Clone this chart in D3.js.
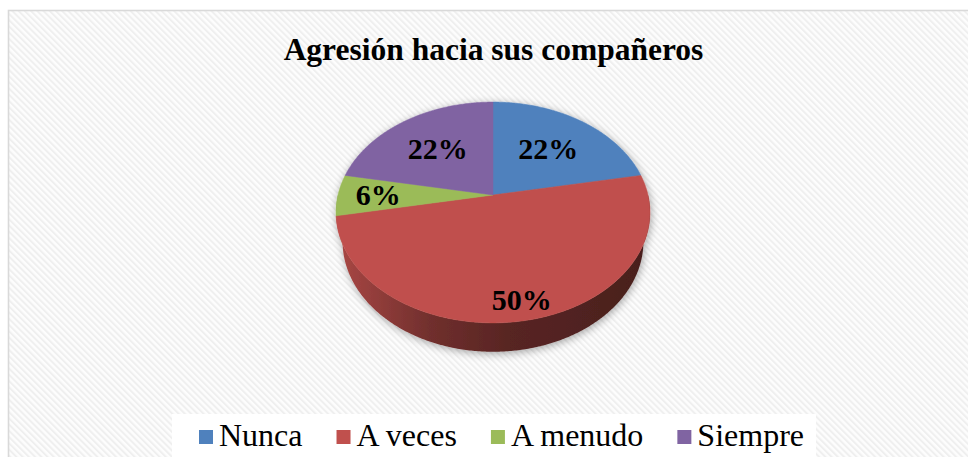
<!DOCTYPE html>
<html>
<head>
<meta charset="utf-8">
<script src="https://cdn.jsdelivr.net/npm/d3@7"></script>
<style>
  html, body { margin: 0; padding: 0; background: #fff; }
  svg { display: block; }
</style>
</head>
<body>
<div id="chart"></div>
<script>
const categories = ['Nunca', 'A veces', 'A menudo', 'Siempre'];
const values = [22, 50, 6, 22];
const colors = ['#4f81bd', '#c0504d', '#9bbb59', '#8064a2'];
const chartTitle = 'Agresión hacia sus compañeros';

// how far out (fraction of radius) each data label sits
const labelRadius = [0.6, 0.86, 0.74, 0.6];

const width = 968;
const height = 457;
const serif = '"Liberation Serif", "Times New Roman", Times, serif';

const svg = d3.select('#chart')
  .append('svg')
  .attr('width', width)
  .attr('height', height);

const defs = svg.append('defs');

// diagonal hatch of the chart area
const hatch = defs.append('pattern')
  .attr('id', 'hatch')
  .attr('patternUnits', 'userSpaceOnUse')
  .attr('width', 4.4)
  .attr('height', 4.4)
  .attr('patternTransform', 'rotate(-45)');
hatch.append('rect').attr('width', 4.4).attr('height', 4.4).attr('fill', '#fdfdfd');
hatch.append('rect').attr('width', 2).attr('height', 4.4).attr('fill', '#efefef');

const shadow = defs.append('filter')
  .attr('id', 'shadow')
  .attr('x', '-20%').attr('y', '-20%')
  .attr('width', '140%').attr('height', '140%');
shadow.append('feGaussianBlur').attr('in', 'SourceAlpha').attr('stdDeviation', 4).attr('result', 'blur');
shadow.append('feOffset').attr('in', 'blur').attr('dx', 1).attr('dy', 2).attr('result', 'off');
shadow.append('feComponentTransfer').attr('in', 'off').attr('result', 'soft')
  .append('feFuncA').attr('type', 'linear').attr('slope', 0.35);
const merge = shadow.append('feMerge');
merge.append('feMergeNode').attr('in', 'soft');
merge.append('feMergeNode').attr('in', 'SourceGraphic');

// background + border
svg.append('rect')
  .attr('x', 8.5).attr('y', 10.5)
  .attr('width', 1000).attr('height', 500)
  .attr('fill', 'url(#hatch)')
  .attr('stroke', '#d9d9d9')
  .attr('stroke-width', 1.6);

svg.append('text')
  .attr('x', 493.5)
  .attr('y', 60)
  .attr('text-anchor', 'middle')
  .attr('font-family', serif)
  .attr('font-weight', 'bold')
  .attr('font-size', '31.5px')
  .attr('fill', '#000')
  .text(chartTitle);

// 3d pie projection
const cx = 493, cy = 195, R = 155, depthH = 43, camD = 705;
const tilt = 44 * Math.PI / 180;

function proj(theta, r, yy) {
  const X = r * Math.sin(theta), Z = r * Math.cos(theta);
  const up = yy * Math.cos(tilt) + Z * Math.sin(tilt);
  const dep = Z * Math.cos(tilt) - yy * Math.sin(tilt);
  const s = camD / (camD + dep);
  return [cx + X * s, cy - up * s];
}

function arcPoints(a0, a1, yy) {
  const n = Math.max(2, Math.ceil((a1 - a0) / 0.01));
  return d3.range(n + 1).map(i => proj(a0 + (a1 - a0) * i / n, R, yy));
}

const pie = d3.pie().sort(null).value(d => d.value);
const arcs = pie(categories.map((c, i) => ({ name: c, value: values[i], color: colors[i] })));

// side gradients
arcs.forEach((a, i) => {
  const base = d3.color(a.data.color);
  const g = defs.append('linearGradient')
    .attr('id', 'side' + i)
    .attr('gradientUnits', 'userSpaceOnUse')
    .attr('x1', cx - R).attr('x2', cx + R)
    .attr('y1', 0).attr('y2', 0);
  [[0, 0.35], [0.3, 1.5], [0.55, 2.2], [1, 2.7]].forEach(([o, k]) => {
    g.append('stop').attr('offset', o).attr('stop-color', base.darker(k).formatHex());
  });
});

const pieG = svg.append('g').attr('filter', 'url(#shadow)');
const line = d3.line();

// front walls
arcs.forEach((a, i) => {
  const s0 = Math.max(a.startAngle, Math.PI / 2);
  const s1 = Math.min(a.endAngle, 3 * Math.PI / 2);
  if (s1 <= s0) return;
  const topEdge = arcPoints(s0, s1, 0);
  const botEdge = arcPoints(s0, s1, -depthH).reverse();
  pieG.append('path')
    .attr('d', line(topEdge.concat(botEdge)) + 'Z')
    .attr('fill', 'url(#side' + i + ')');
});

// top faces
pieG.selectAll('path.top')
  .data(arcs)
  .join('path')
  .attr('class', 'top')
  .attr('d', a => line([[cx, cy]].concat(arcPoints(a.startAngle, a.endAngle, 0))) + 'Z')
  .attr('fill', a => a.data.color)
  .attr('stroke', a => a.data.color)
  .attr('stroke-width', 0.5);

// data labels
const total = d3.sum(values);
svg.selectAll('text.lbl')
  .data(arcs)
  .join('text')
  .attr('class', 'lbl')
  .attr('x', (a, i) => proj((a.startAngle + a.endAngle) / 2, labelRadius[i] * R, 0)[0])
  .attr('y', (a, i) => proj((a.startAngle + a.endAngle) / 2, labelRadius[i] * R, 0)[1])
  .attr('dy', '0.34em')
  .attr('text-anchor', 'middle')
  .attr('font-family', serif)
  .attr('font-weight', 'bold')
  .attr('font-size', '30px')
  .attr('fill', '#000')
  .text(a => Math.round(a.value / total * 100) + '%');

// legend
const legendBox = svg.append('rect').attr('fill', '#fff');
const legend = svg.append('g');
const sq = 14, gapText = 6, gapItem = 34;
let lx = 0;
categories.forEach((c, i) => {
  const item = legend.append('g').attr('transform', `translate(${lx},0)`);
  item.append('rect')
    .attr('x', 0).attr('y', -sq - 2)
    .attr('width', sq).attr('height', sq)
    .attr('fill', colors[i]);
  const t = item.append('text')
    .attr('x', sq + gapText).attr('y', 0)
    .attr('font-family', serif)
    .attr('font-size', '32px')
    .attr('fill', '#000')
    .text(c);
  lx += sq + gapText + t.node().getComputedTextLength() + gapItem;
});
const legendW = lx - gapItem;
const legendX = 501.5 - legendW / 2;
legend.attr('transform', `translate(${legendX},446)`);
legendBox
  .attr('x', legendX - 27).attr('y', 414)
  .attr('width', legendW + 39).attr('height', 60);
</script>
</body>
</html>
